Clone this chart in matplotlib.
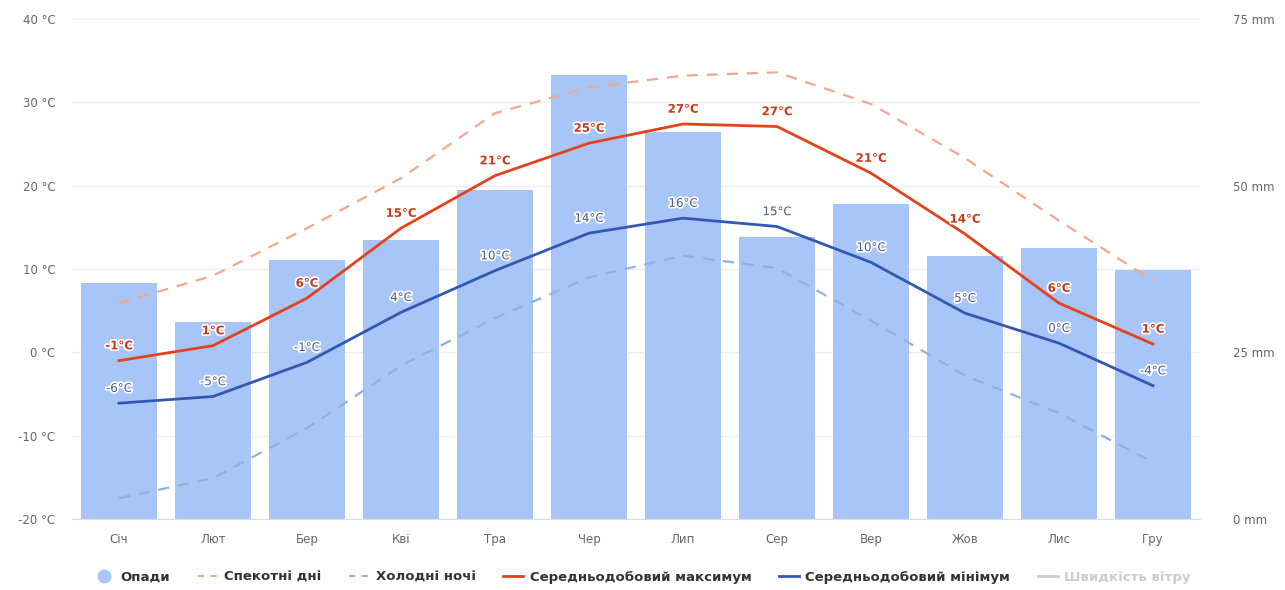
"""Climate chart: precipitation bars with temperature lines (Ukrainian labels)."""

import matplotlib.pyplot as plt
from matplotlib.lines import Line2D
import matplotlib.patheffects as pe

months = ["Січ", "Лют", "Бер", "Кві", "Тра", "Чер",
          "Лип", "Сер", "Вер", "Жов", "Лис", "Гру"]
precip_mm = [35.4, 29.5, 38.8, 41.8, 49.3, 66.6, 58.0, 42.3, 47.2, 39.4, 40.6, 37.3]
temp_max = [-1.0, 0.8, 6.5, 14.9, 21.2, 25.1, 27.4, 27.1, 21.5, 14.2, 5.9, 1.0]
temp_min = [-6.1, -5.3, -1.2, 4.8, 9.8, 14.3, 16.1, 15.1, 10.8, 4.7, 1.1, -4.0]
hot_days = [5.9, 9.2, 14.9, 20.9, 28.7, 31.8, 33.2, 33.6, 29.8, 23.3, 15.8, 8.6]
cold_nights = [-17.5, -15.1, -9.1, -1.6, 4.1, 9.0, 11.6, 10.1, 3.8, -2.8, -7.3, -13.2]
max_labels = [-1, 1, 6, 15, 21, 25, 27, 27, 21, 14, 6, 1]
min_labels = [-6, -5, -1, 4, 10, 14, 16, 15, 10, 5, 0, -4]
temp_ticks = [-20, -10, 0, 10, 20, 30, 40]
mm_ticks = [0, 25, 50, 75]

BAR = "#a8c5f8"
RED = "#e4421d"
BLUE = "#3358b0"
HOT = "#f2a88c"
COLD = "#8fb2dc"
GRID = "#eeeeee"
TICK = "#666666"

fig = plt.figure(figsize=(12.85, 5.9), dpi=100, facecolor="white")
ax_p = fig.add_axes([72 / 1285, 1 - 519 / 590, (1200 - 72) / 1285, 500 / 590])
ax_t = ax_p.twinx()
ax_t.set_zorder(ax_p.get_zorder() + 1)
ax_t.patch.set_visible(False)

x = list(range(len(months)))

# Precipitation bars (right axis)
ax_p.bar(x, precip_mm, width=0.8, color=BAR, zorder=2)
ax_p.set_ylim(0, 75)
ax_p.set_xlim(-0.5, 11.5)
ax_p.yaxis.tick_right()
ax_p.set_yticks(mm_ticks)
ax_p.set_yticklabels([f"{v} mm" for v in mm_ticks])
ax_p.tick_params(axis="y", length=0, pad=24, labelsize=8.5, labelcolor=TICK)

# Temperature lines (left axis)
ax_t.set_ylim(-20, 40)
ax_t.yaxis.tick_left()
ax_t.set_yticks(temp_ticks)
ax_t.set_yticklabels([f"{v} °C" for v in temp_ticks])
ax_t.tick_params(axis="y", length=0, pad=12, labelsize=8.5, labelcolor=TICK)
for t in temp_ticks:
    ax_p.axhline((t + 20) * 75 / 60, color=GRID, linewidth=1, zorder=1)

ax_t.plot(x, hot_days, color=HOT, linestyle=(0, (5, 4)), linewidth=1.6)
ax_t.plot(x, cold_nights, color=COLD, linestyle=(0, (5, 4)), linewidth=1.6)
ax_t.plot(x, temp_max, color=RED, linewidth=2)
ax_t.plot(x, temp_min, color=BLUE, linewidth=2)

halo = [pe.withStroke(linewidth=2.5, foreground="white")]
for i in x:
    ax_t.annotate(f"{max_labels[i]}°C", (i, temp_max[i]), xytext=(0, 6),
                  textcoords="offset points", ha="center", va="bottom",
                  fontsize=8.5, fontweight="bold", color="#c8391a", path_effects=halo)
    ax_t.annotate(f"{min_labels[i]}°C", (i, temp_min[i]), xytext=(0, 6),
                  textcoords="offset points", ha="center", va="bottom",
                  fontsize=8.5, color="#4a5a80", path_effects=halo)

ax_p.set_xticks(x)
ax_p.set_xticklabels(months)
ax_p.tick_params(axis="x", length=0, pad=10, labelsize=8.5, labelcolor=TICK)
for a in (ax_p, ax_t):
    for s in a.spines.values():
        s.set_visible(False)
ax_p.spines["bottom"].set_visible(True)
ax_p.spines["bottom"].set_color("#dddddd")

# Legend
handles = [
    Line2D([], [], marker="o", linestyle="none", markersize=9,
           markerfacecolor=BAR, markeredgecolor=BAR),
    Line2D([], [], color=HOT, linestyle=(0, (3, 3)), linewidth=1.5),
    Line2D([], [], color=COLD, linestyle=(0, (3, 3)), linewidth=1.5),
    Line2D([], [], color=RED, linewidth=2),
    Line2D([], [], color=BLUE, linewidth=2),
    Line2D([], [], color="#cccccc", linewidth=2),
]
labels = ["Опади", "Спекотні дні", "Холодні ночі", "Середньодобовий максимум",
          "Середньодобовий мінімум", "Швидкість вітру"]
leg = fig.legend(handles, labels, loc="center", bbox_to_anchor=(0.5, 1 - 577 / 590),
                 ncol=6, frameon=False, handlelength=1.5, handletextpad=0.5,
                 columnspacing=2.1, prop={"size": 9.5, "weight": "bold"})
for i, txt in enumerate(leg.get_texts()):
    txt.set_color("#cccccc" if i == 5 else "#333333")

fig.savefig("out.png", dpi=100, facecolor="white")
